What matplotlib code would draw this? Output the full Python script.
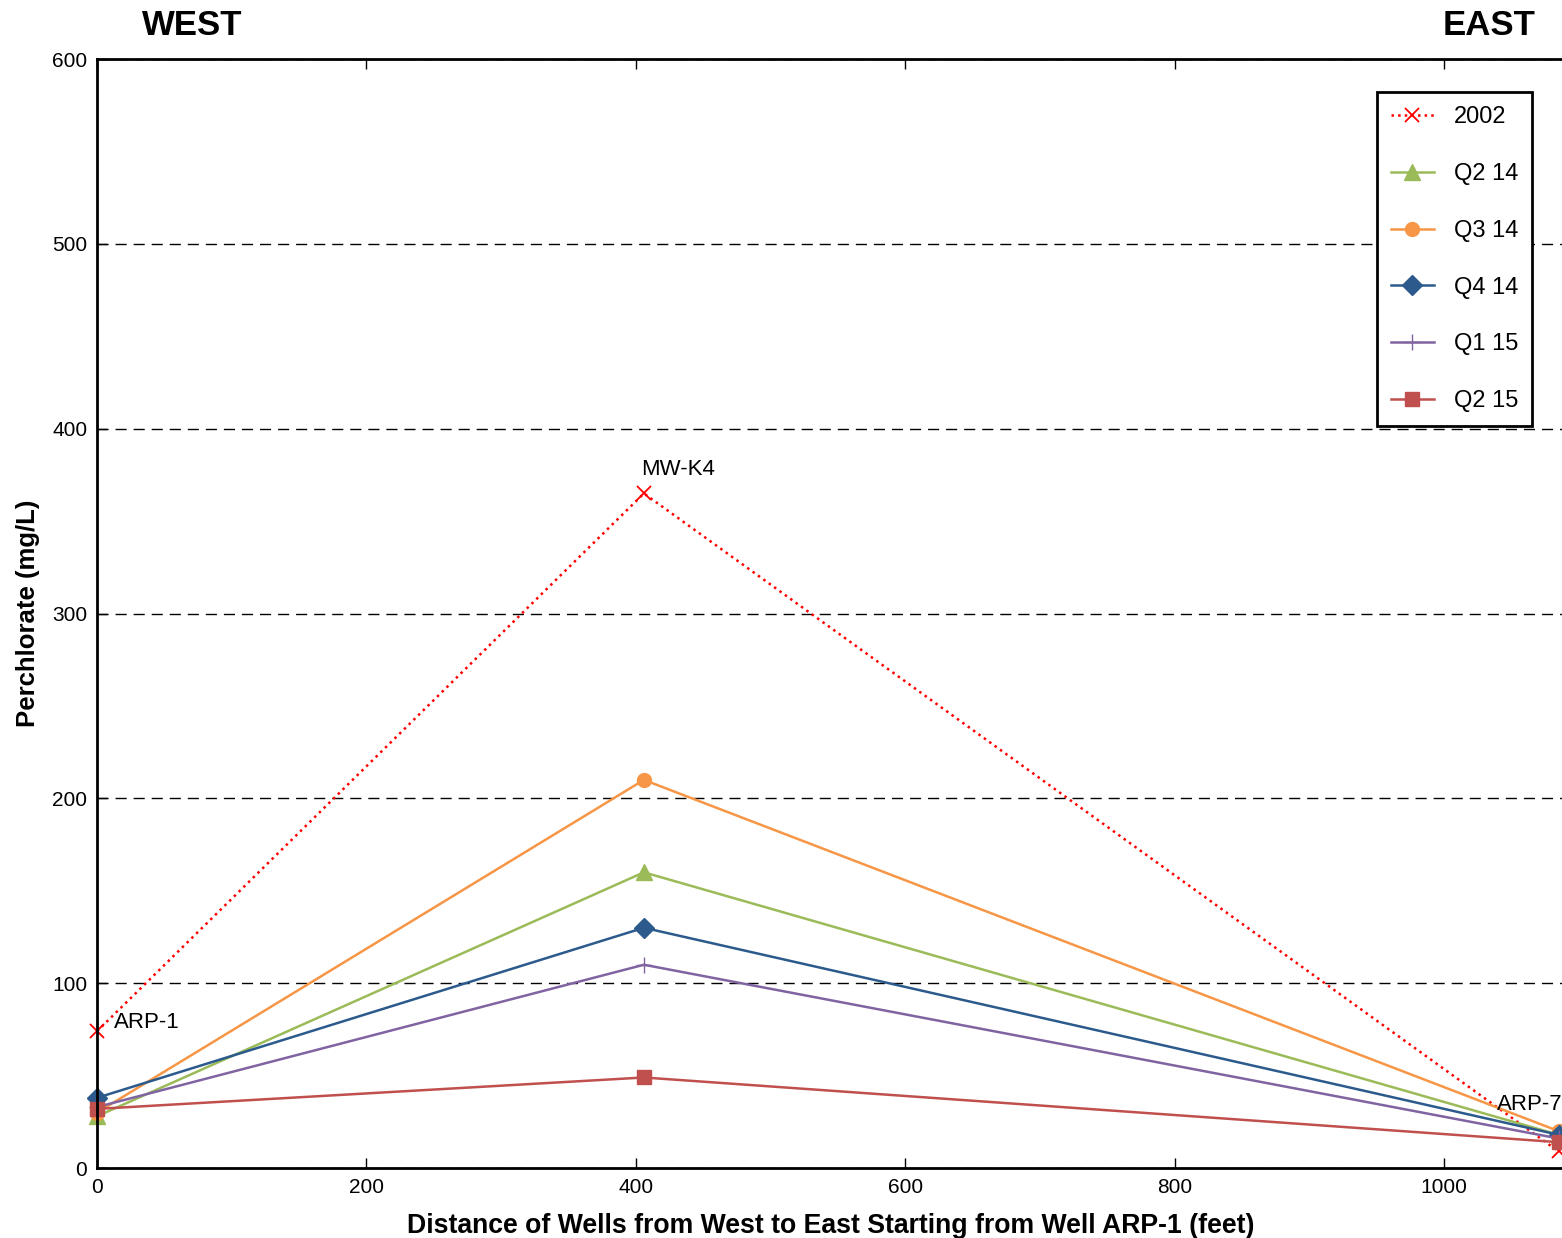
import matplotlib
matplotlib.use("Agg")
import matplotlib.pyplot as plt

plt.rcParams['font.family'] = ['Liberation Sans', 'DejaVu Sans']

# Well positions (feet from ARP-1) and well names
distance = [0, 406, 1085]
wells = ["ARP-1", "MW-K4", "ARP-7"]

# Perchlorate concentrations (mg/L) per sampling event
y2002 = [74, 365, 9]
q2_14 = [28, 160, 18]
q3_14 = [30, 210, 20]
q4_14 = [38, 130, 18]
q1_15 = [33, 110, 16]
q2_15 = [32, 49, 14]

series = [
    ("2002", y2002, dict(color="#ff0000", linestyle=":", marker="x", markersize=10, mew=1.3)),
    ("Q2 14", q2_14, dict(color="#9bbb59", linestyle="-", marker="^", markersize=11)),
    ("Q3 14", q3_14, dict(color="#f79646", linestyle="-", marker="o", markersize=10)),
    ("Q4 14", q4_14, dict(color="#2c5a8c", linestyle="-", marker="D", markersize=10)),
    ("Q1 15", q1_15, dict(color="#8064a2", linestyle="-", marker="+", markersize=12, mew=1.0)),
    ("Q2 15", q2_15, dict(color="#c0504d", linestyle="-", marker="s", markersize=10)),
]

fig = plt.figure(figsize=(15.62, 12.38), dpi=100)
ax = fig.add_axes([0.0621, 0.0565, 0.9400, 0.8958])

for label, vals, style in series:
    ax.plot(distance, vals, label=label, linewidth=1.8, clip_on=False,
            markeredgecolor=style["color"], **style)

ax.set_xlim(0, 1090)
ax.set_ylim(0, 600)
ax.set_yticks(range(0, 601, 100))
ax.set_xticks(range(0, 1001, 200))
ax.yaxis.grid(True, linestyle=(0, (8, 5)), color="black", linewidth=1.0)
ax.set_axisbelow(True)

for side in ("left", "bottom", "top"):
    ax.spines[side].set_linewidth(2)
ax.spines["right"].set_visible(False)
ax.tick_params(direction="in", top=True, right=False, length=7, width=1,
               labelsize=15, pad=7)

ax.set_xlabel("Distance of Wells from West to East Starting from Well ARP-1 (feet)",
              fontsize=19.2, fontweight="bold", labelpad=12)
ax.set_ylabel("Perchlorate (mg/L)", fontsize=18.5, fontweight="bold", labelpad=9)

# Well name labels
ax.annotate(wells[0], (distance[0], y2002[0]), xytext=(12, 2),
            textcoords="offset points", fontsize=16)
ax.annotate(wells[1], (distance[1], y2002[1]), xytext=(-2, 13),
            textcoords="offset points", fontsize=16)
ax.annotate(wells[2], (distance[2], y2002[2]), xytext=(-44, 30),
            textcoords="offset points", fontsize=16, annotation_clip=False)

# Direction labels
fig.text(0.123, 0.979, "WEST", fontsize=25, fontweight="bold", ha="center", va="center")
fig.text(0.953, 0.979, "EAST", fontsize=25, fontweight="bold", ha="center", va="center")

leg = ax.legend(loc="upper right", bbox_to_anchor=(0.9775, 0.970), fontsize=17,
                labelspacing=1.47, borderpad=0.6, handlelength=1.8,
                handletextpad=0.85, borderaxespad=0, fancybox=False, framealpha=1)
leg.get_frame().set_edgecolor("black")
leg.get_frame().set_linewidth(2)

fig.savefig("out.png", dpi=100)
